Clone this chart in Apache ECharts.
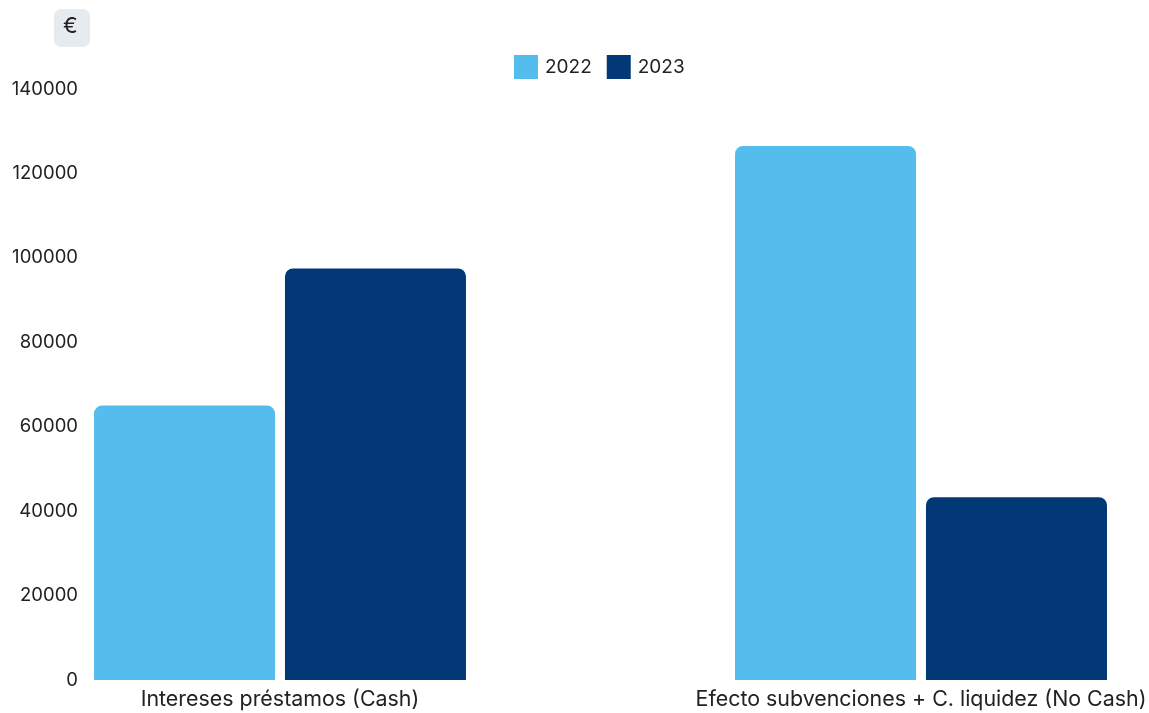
<!DOCTYPE html>
<html>
<head>
<meta charset="utf-8">
<script src="https://cdn.jsdelivr.net/npm/echarts@6/dist/echarts.min.js"></script>
<style>
  html, body { margin: 0; padding: 0; background: #fff; }
  #chart { width: 1149px; height: 713px; }
</style>
</head>
<body>
<div id="chart"></div>
<script>
const categories = ['Intereses préstamos (Cash)', 'Efecto subvenciones + C. liquidez (No Cash)'];
const years = ['2022', '2023'];
const values2022 = [65000, 126500];
const values2023 = [97500, 43300];
const yMax = 140000;
const yStep = 20000;

const txt = '#222';
const font = 'Inter, Roboto, sans-serif';

// bars sit on a numeric x axis so the two groups can be spaced like the original
const gridLeft = 100, gridRight = 20;
const unitPx = 641;               // px between the two group centres
const firstCentre = 280;          // px of first group centre
const xMin = -(firstCentre - gridLeft) / unitPx;
const xMax = xMin + (1149 - gridLeft - gridRight) / unitPx;

var myChart = echarts.init(document.getElementById('chart'));

var option = {
    animation: false,
    textStyle: { fontFamily: font },
    legend: {
        data: years,
        left: 514,
        top: 55,
        padding: 0,
        itemWidth: 24,
        itemHeight: 24,
        itemGap: 15,
        icon: 'rect',
        textStyle: { fontSize: 19, color: txt, fontFamily: font, padding: [0, 0, 0, 2] }
    },
    graphic: [
        {
            type: 'rect',
            left: 54,
            top: 9,
            shape: { width: 36, height: 38, r: 7 },
            style: { fill: '#e6ebf0' }
        },
        {
            type: 'text',
            left: 63,
            top: 15,
            style: { text: '€', fontSize: 22, fill: txt, fontFamily: font }
        }
    ],
    grid: {
        left: gridLeft,
        right: gridRight,
        top: 89,
        bottom: 33,
        outerBoundsMode: 'none'
    },
    xAxis: {
        type: 'value',
        min: xMin,
        max: xMax,
        splitLine: { show: false },
        axisLine: { show: false },
        axisTick: { show: false },
        axisLabel: {
            fontSize: 21.4,
            color: txt,
            margin: 9,
            customValues: [0, 1],
            formatter: function (v) { return categories[Math.round(v)]; }
        }
    },
    yAxis: {
        type: 'value',
        min: 0,
        max: yMax,
        interval: yStep,
        splitLine: { show: false },
        axisLine: { show: false },
        axisTick: { show: false },
        axisLabel: {
            fontSize: 18.5,
            color: txt,
            margin: 22,
            formatter: function (v) { return String(v); }
        }
    },
    series: [
        {
            name: years[0],
            type: 'bar',
            data: values2022.map(function (v, i) { return [i, v]; }),
            barWidth: 181,
            barGap: '5.5%',
            itemStyle: { color: '#54bdee', borderRadius: [8, 8, 0, 0] }
        },
        {
            name: years[1],
            type: 'bar',
            data: values2023.map(function (v, i) { return [i, v]; }),
            barWidth: 181,
            barGap: '5.5%',
            itemStyle: { color: '#023876', borderRadius: [8, 8, 0, 0] }
        }
    ]
};

option && myChart.setOption(option);
</script>
</body>
</html>
